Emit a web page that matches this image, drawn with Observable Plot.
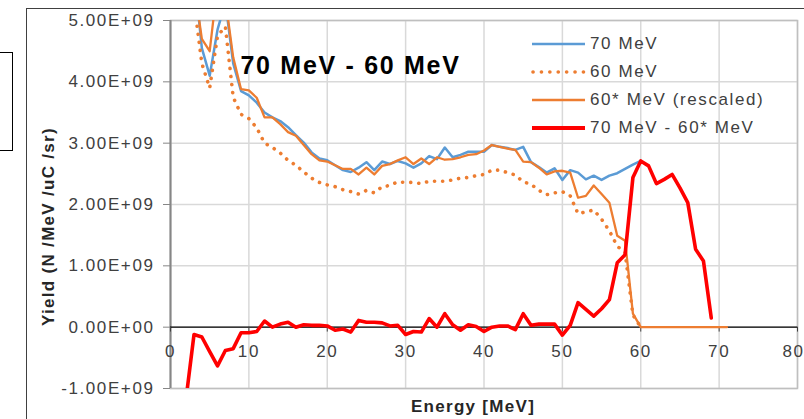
<!DOCTYPE html>
<html><head><meta charset="utf-8">
<script src="https://cdn.jsdelivr.net/npm/d3@7"></script>
<script src="https://cdn.jsdelivr.net/npm/@observablehq/plot@0.6"></script>
<style>
html,body{margin:0;padding:0;background:#fff;}
#wrap{position:relative;width:804px;height:419px;overflow:hidden;font-family:"Liberation Sans",Arial,sans-serif;}
#wrap > svg{position:absolute;left:0;top:0;}
#wrap > svg text{letter-spacing:1.6px;}
#wrap > svg g[font-weight="bold"] text{letter-spacing:1.3px;}
#wrap > svg g[font-size="25"] text{letter-spacing:1.7px;}
.outer{position:absolute;left:26px;top:8px;width:800px;height:420px;border-left:1.5px solid #404040;border-top:1.5px solid #404040;}
.box{position:absolute;left:-4px;top:52px;width:15px;height:97px;border:1.5px solid #000;}
.row{position:absolute;left:531px;height:28px;display:flex;align-items:center;font-size:17px;color:#404040;letter-spacing:1.6px;white-space:nowrap;}
.row svg{display:block;width:55px;height:10px;margin-right:4px;flex:none;}
</style></head>
<body>
<div id="wrap">
  <div class="outer"></div>
  <div class="box"></div>
</div>
<script>
// Energy grid (MeV)
const energy = [2,3,4,5,6,7,8,9,10,11,
  12,13,14,15,16,17,18,19,20,21,
  22,23,24,25,26,27,28,29,30,31,
  32,33,34,35,36,37,38,39,40,41,
  42,43,44,45,46,47,48,49,50,51,
  52,53,54,55,56,57,58,59,60,61,
  62,63,64,65,66,67,68,69,70,71];

// Yields in units of 1e9 N/MeV/uC/sr
const yield70 = [null,5.8,4.55,4.1,4.85,5.3,4.3,3.85,3.78,3.66,
  3.5,3.42,3.36,3.26,3.13,3.01,2.85,2.75,2.72,2.64,
  2.56,2.53,2.60,2.69,2.56,2.70,2.66,2.71,2.67,2.60,
  2.67,2.79,2.74,2.93,2.77,2.81,2.86,2.86,2.86,2.97,
  2.94,2.92,2.89,2.94,2.69,2.61,2.52,2.59,2.40,2.56,
  2.52,2.41,2.47,2.40,2.47,2.51,2.58,2.65,2.71,null,
  null,null,null,null,null,null,null,null,null,null];

const yield60 = [null,5.3,4.3,3.9,4.75,4.9,3.75,3.47,3.4,3.25,
  3.0,2.93,2.84,2.72,2.64,2.53,2.43,2.36,2.32,2.29,
  2.24,2.21,2.17,2.23,2.19,2.29,2.31,2.37,2.36,2.36,
  2.34,2.38,2.38,2.38,2.40,2.43,2.44,2.47,2.49,2.56,
  2.56,2.52,2.48,2.37,2.33,2.23,2.16,2.19,2.21,2.14,
  1.85,1.88,1.91,1.76,1.57,1.32,1.22,0.2,0,null,
  null,null,null,null,null,null,null,null,null,null];

const yield60s = [null,5.6,4.7,4.5,5.6,5.35,4.4,3.88,3.86,3.74,
  3.42,3.42,3.31,3.18,3.12,2.97,2.82,2.72,2.70,2.64,
  2.58,2.58,2.49,2.60,2.49,2.63,2.66,2.72,2.77,2.66,
  2.75,2.66,2.77,2.73,2.74,2.77,2.81,2.82,2.88,2.97,
  2.94,2.91,2.89,2.70,2.69,2.60,2.49,2.54,2.55,2.52,
  2.11,2.14,2.31,2.17,2.03,1.49,1.41,0.22,0,0,
  0,0,0,0,0,0,0,0,0,0];

const yieldDiff = [-1.15,-0.12,-0.16,-0.40,-0.63,-0.38,-0.35,-0.09,-0.09,-0.07,
  0.10,0.0,0.05,0.08,0.0,0.04,0.03,0.03,0.02,-0.05,
  -0.03,-0.08,0.11,0.08,0.08,0.07,0.02,0.03,-0.12,-0.07,
  -0.08,0.14,0.0,0.22,0.04,-0.05,0.04,0.01,-0.07,0.0,
  0.02,0.02,-0.04,0.22,0.03,0.05,0.05,0.05,-0.13,0.03,
  0.40,0.29,0.18,0.30,0.45,1.05,1.18,2.44,2.71,2.63,
  2.34,2.41,2.49,2.27,2.03,1.27,1.08,0.15,null,null];

const xTicks = [0,10,20,30,40,50,60,70,80];
const xTickLabels = ["0","10","20","30","40","50","60","70","80"];
const yTicks = [-1,0,1,2,3,4,5];
const yTickLabels = ["-1.00E+09","0.00E+00","1.00E+09","2.00E+09","3.00E+09","4.00E+09","5.00E+09"];

const seriesNames = ["70 MeV","60 MeV","60* MeV (rescaled)","70 MeV - 60* MeV"];
const seriesColors = ["#5B9BD5","#ED7D31","#ED7D31","#FF0000"];
const chartTitle = "70 MeV - 60 MeV";
const xTitle = "Energy [MeV]";
const yTitle = "Yield (N /MeV /uC /sr)";

const toRows = vals => energy.map((e, i) => ({e, v: vals[i]}));
const yLabelMap = new Map(yTicks.map((t, i) => [t, yTickLabels[i]]));
const xLabelRows = xTicks.map((t, i) => ({t, s: xTickLabels[i]}));
const xLabelInner = xLabelRows.slice(0, -1);
const xLabelLast = xLabelRows.slice(-1);

const chart = Plot.plot({
  width: 804, height: 419,
  marginLeft: 170, marginRight: 7, marginTop: 20, marginBottom: 31,
  x: {domain: [0, 80], axis: null},
  y: {domain: [-1, 5], axis: null},
  style: {background: "transparent", fontFamily: "'Liberation Sans', Arial, sans-serif", fontSize: "17px", overflow: "visible"},
  marks: [
    Plot.ruleX(xTicks, {x: d => d, stroke: "#d9d9d9", strokeWidth: 1.5}),
    Plot.ruleY(yTicks, {y: d => d, stroke: "#d9d9d9", strokeWidth: 1.5}),
    Plot.frame({stroke: "#bfbfbf", strokeWidth: 1.5}),
    Plot.axisY({ticks: yTicks, tickFormat: d => yLabelMap.get(d), tickSize: 7, tickPadding: 9,
      stroke: "#868686", fill: "#404040", label: null}),
    Plot.ruleX([0], {x: d => d, stroke: "#868686", strokeWidth: 2}),
    Plot.ruleY([0], {y: d => d, stroke: "#000", strokeWidth: 1.2}),
    Plot.ruleX(xTicks, {x: d => d, y1: () => 0, y2: () => -0.08, stroke: "#404040", strokeWidth: 1}),
    Plot.text(xLabelInner, {x: "t", y: () => 0, text: "s", dy: 24, lineAnchor: "middle", fill: "#404040"}),
    Plot.text(xLabelLast, {x: "t", y: () => 0, text: "s", dy: 24, dx: 7, textAnchor: "end", lineAnchor: "middle", fill: "#404040"}),
    Plot.line(toRows(yield70), {x: "e", y: "v", stroke: seriesColors[0], strokeWidth: 2.5, clip: true}),
    Plot.line(toRows(yield60), {x: "e", y: "v", stroke: seriesColors[1], strokeWidth: 3.6, strokeDasharray: "0.1 8", strokeLinecap: "round", clip: true}),
    Plot.line(toRows(yield60s), {x: "e", y: "v", stroke: seriesColors[2], strokeWidth: 2.3, clip: true}),
    Plot.line(toRows(yieldDiff), {x: "e", y: "v", stroke: seriesColors[3], strokeWidth: 3.6, clip: true}),
    Plot.text([chartTitle], {text: d => d, frameAnchor: "top-left", dx: 70, dy: 53, textAnchor: "start", lineAnchor: "bottom", fontWeight: "bold", fontSize: 25, fill: "#000"}),
    Plot.text([xTitle], {text: d => d, frameAnchor: "bottom", dx: -11, dy: 18, lineAnchor: "middle", fontWeight: "bold", fontSize: 17, fill: "#262626"}),
    Plot.text([yTitle], {text: d => d, frameAnchor: "left", dx: -122, dy: 22, rotate: -90, textAnchor: "middle", lineAnchor: "middle", fontWeight: "bold", fontSize: 17, fill: "#262626"})
  ]
});
const wrap = document.getElementById("wrap");
wrap.appendChild(chart);

// legend inside the plot area
const swatch = [
  '<line x1="1" y1="5" x2="54" y2="5" stroke="' + seriesColors[0] + '" stroke-width="2.5"/>',
  '<line x1="2" y1="5" x2="54" y2="5" stroke="' + seriesColors[1] + '" stroke-width="3.6" stroke-linecap="round" stroke-dasharray="0.1 8.3"/>',
  '<line x1="1" y1="5" x2="54" y2="5" stroke="' + seriesColors[2] + '" stroke-width="2.3"/>',
  '<line x1="1" y1="5" x2="54" y2="5" stroke="' + seriesColors[3] + '" stroke-width="4"/>'
];
seriesNames.forEach((name, i) => {
  const row = document.createElement("div");
  row.className = "row";
  row.style.top = (30 + 28 * i) + "px";
  row.innerHTML = '<svg viewBox="0 0 55 10">' + swatch[i] + '</svg><span></span>';
  row.querySelector("span").textContent = name;
  wrap.appendChild(row);
});
</script>
</body></html>
